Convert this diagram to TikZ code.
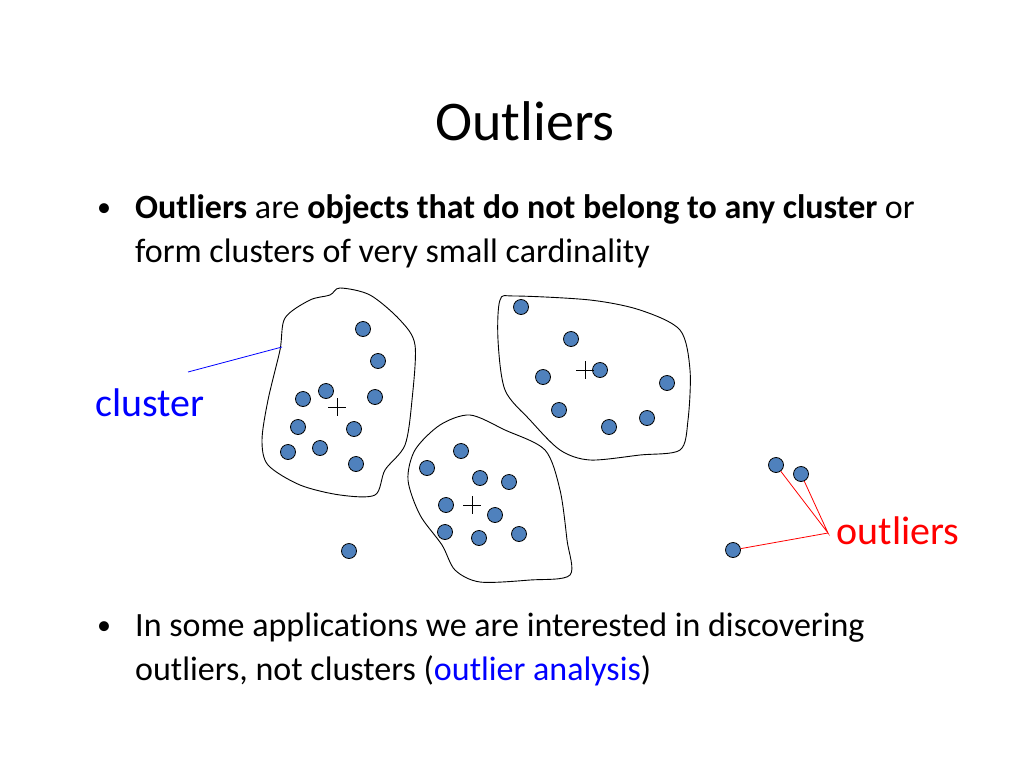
\documentclass[tikz,border=0pt]{standalone}
\usepackage{fontspec}
\setmainfont[Ligatures=NoCommon]{Carlito}
\begin{document}
\begin{tikzpicture}[x=1pt,y=-1pt,
  dot/.style={circle,draw=black,fill={rgb,255:red,79;green,129;blue,189},minimum size=15pt,inner sep=0pt,line width=0.8pt},
  txt/.style={anchor=base west,inner sep=0pt,font=\fontsize{34}{40}\selectfont},
  blob/.style={draw=black,line width=0.9pt}]
\useasboundingbox (0,0) rectangle (1024,768);
\node[font=\fontsize{56}{66}\selectfont] (title) at (525,121) {Outliers};
\node[txt,font=\fontsize{28}{34}\selectfont] (b1) at (97,216) {•};
\node[txt] (l1) at (135,218) {\textbf{Outliers} are \textbf{objects that do not belong to any cluster} or};
\node[txt] (l2) at (135,262) {form clusters of very small cardinality};
\node[txt,font=\fontsize{28}{34}\selectfont] (b2) at (97,634) {•};
\node[txt] (l3) at (135,636) {In some applications we are interested in discovering};
\node[txt] (l4) at (135,680) {outliers, not clusters (\textcolor{blue}{outlier analysis})};
\draw[blob] plot[smooth cycle,tension=0.5] coordinates{(285,318)(310,300)(330,295)(340,288)(370,295)(400,320)(415,345)(412,400)(405,445)(385,470)(375,495)(340,495)(300,485)(268,465)(262,440)(268,400)(280,350)};
\draw[blob] plot[smooth cycle,tension=0.5] coordinates{(500,300)(515,296)(590,300)(640,310)(680,330)(690,370)(688,420)(680,450)(640,455)(590,460)(560,450)(530,420)(505,390)(498,340)};
\draw[blob] plot[smooth cycle,tension=0.5] coordinates{(415,450)(440,425)(470,415)(505,430)(545,450)(560,490)(567,540)(570,575)(530,580)(480,582)(455,570)(442,545)(420,515)(408,480)};
\foreach \p/\n in {{(363,329)}/a1,{(378,361)}/a2,{(326,391)}/a3,{(303,399)}/a4,{(375,397)}/a5,{(298,427)}/a6,{(354,429)}/a7,{(320,448)}/a8,{(288,452)}/a9,{(356,464)}/a10,
 {(521,307)}/b1,{(571,339)}/b2,{(600,370)}/b3,{(543,377)}/b4,{(667,383)}/b5,{(559,410)}/b6,{(647,418)}/b7,{(609,427)}/b8,
 {(461,451)}/c1,{(427,468)}/c2,{(480,478)}/c3,{(509,482)}/c4,{(446,505)}/c5,{(495,515)}/c6,{(445,532)}/c7,{(479,538)}/c8,{(519,534)}/c9,
 {(349,551)}/o0,{(776,465)}/o1,{(801,474)}/o2,{(733,550)}/o3}
  \node[dot] (\n) at \p {};
\foreach \p in {(337,407),(585,370),(472,505)}
  \draw[line width=0.8pt] \p ++(-9,0) -- ++(18,0) \p ++(0,-9) -- ++(0,18);
\node[text=blue,font=\fontsize{40}{48}\selectfont] (cl) at (150,403) {cluster};
\coordinate (cla) at (188,372); \coordinate (clb) at (282,347);
\draw[blue,line width=0.8pt] (cla) -- (clb);
\node[text=red,font=\fontsize{40}{48}\selectfont] (ol) at (898,531) {outliers};
\coordinate (op) at (828,533);
\draw[red,line width=0.8pt] (o1) -- (op) -- (o2);
\draw[red,line width=0.8pt] (o3) -- (op);
\end{tikzpicture}
\end{document}
